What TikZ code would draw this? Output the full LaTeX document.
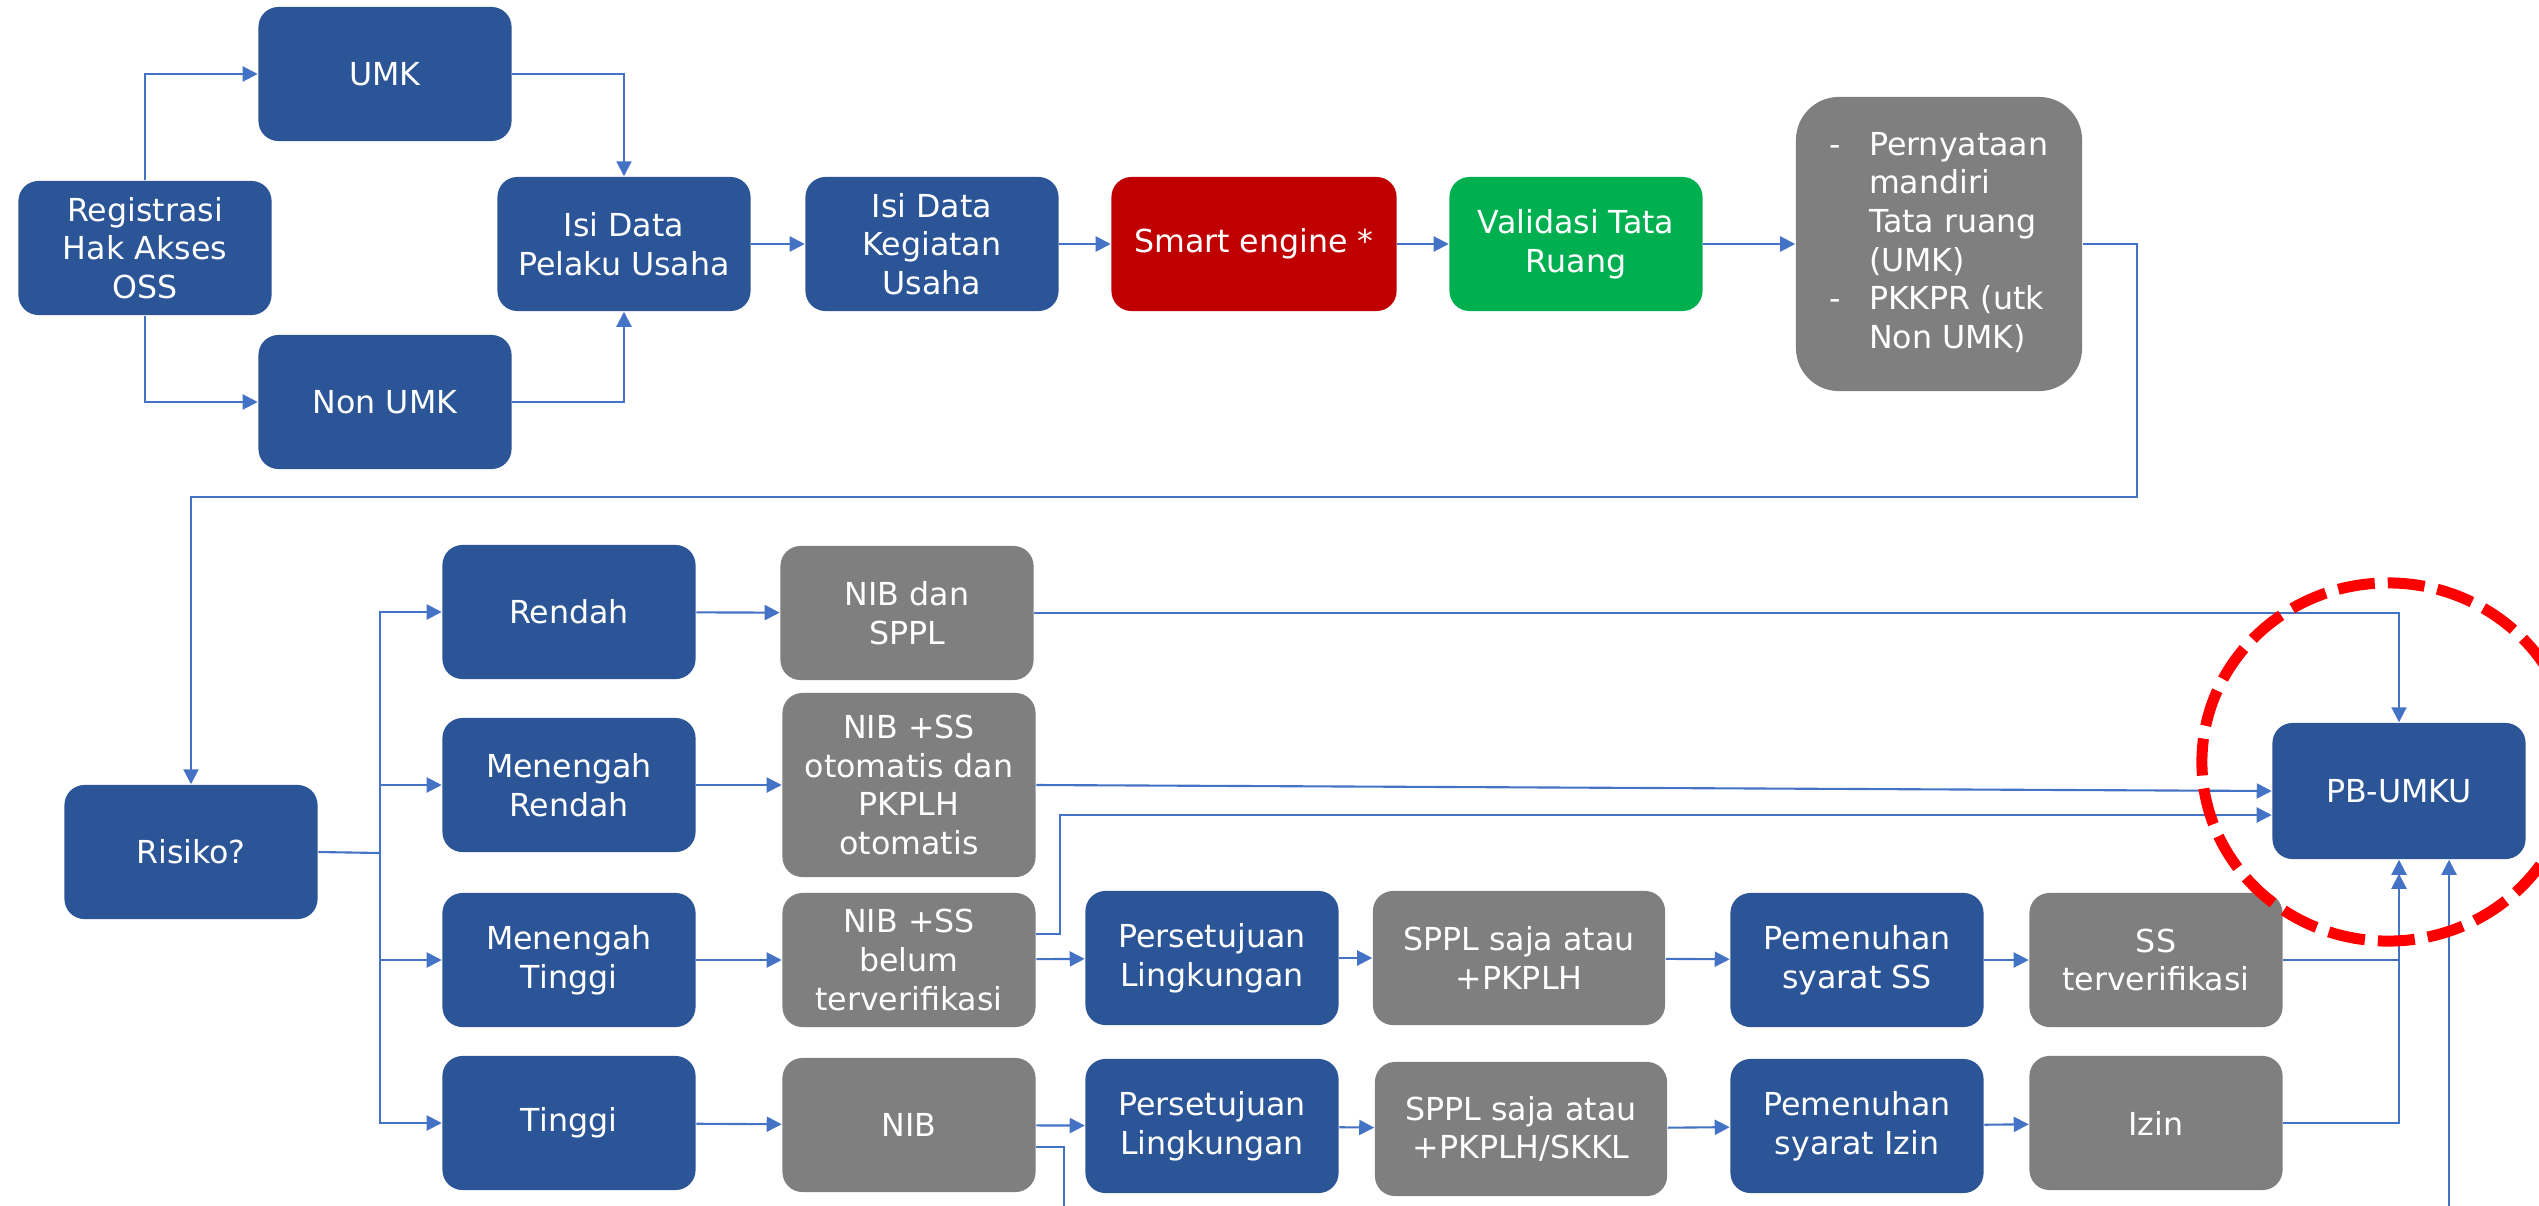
\documentclass[tikz,border=0pt]{standalone}
\usepackage{fontspec}
\setmainfont{DejaVu Sans}
\usetikzlibrary{arrows.meta,calc}

\definecolor{biru}{HTML}{2B5597}
\definecolor{abu}{HTML}{7F7F7F}
\definecolor{merah}{HTML}{C00000}
\definecolor{hijau}{HTML}{00B050}
\definecolor{garis}{HTML}{4472C4}

\begin{document}
\begin{tikzpicture}[x=0.01cm,y=-0.01cm,
    kotak/.style={rounded corners=0.2cm,text=white,align=center,
      minimum width=2.53cm,minimum height=1.34cm,inner sep=1pt,
      font=\fontsize{9}{11}\selectfont},
    kbiru/.style={kotak,fill=biru},
    kabu/.style={kotak,fill=abu},
    kmerah/.style={kotak,fill=merah},
    khijau/.style={kotak,fill=hijau},
    panah/.style={draw=garis,line width=0.6pt,-{Triangle[length=0.15cm,width=0.15cm]}},
    garisbiru/.style={draw=garis,line width=0.6pt}]

  \useasboundingbox (0,0) rectangle (2539,1206);
  \clip (0,0) rectangle (2539,1206);

  % baris atas
  \node[kbiru] (reg)      at (145,248)  {Registrasi\\Hak Akses\\OSS};
  \node[kbiru] (umk)      at (385,74)   {UMK};
  \node[kbiru] (nonumk)   at (385,402)  {Non UMK};
  \node[kbiru] (pelaku)   at (624,244)  {Isi Data\\Pelaku Usaha};
  \node[kbiru] (kegiatan) at (932,244)  {Isi Data\\Kegiatan\\Usaha};
  \node[kmerah,minimum width=2.85cm] (smart) at (1254,244) {Smart engine *};
  \node[khijau] (validasi) at (1576,244) {Validasi Tata\\Ruang};
  \node[kabu,minimum width=2.86cm,minimum height=2.94cm,rounded corners=0.43cm]
    (tataruang) at (1939,244)
    {\begin{tabular}{@{}l@{\hspace{0.28cm}}l@{}}
      - & Pernyataan\\
        & mandiri\\
        & Tata ruang\\
        & (UMK)\\
      - & PKKPR (utk\\
        & Non UMK)
    \end{tabular}};

  % baris risiko
  \node[kbiru] (risiko) at (191,852)  {Risiko?};
  \node[kbiru] (rendah) at (569,612)  {Rendah};
  \node[kbiru] (mr)     at (569,785)  {Menengah\\Rendah};
  \node[kbiru] (mt)     at (569,960)  {Menengah\\Tinggi};
  \node[kbiru] (tinggi) at (569,1123) {Tinggi};

  \node[kabu] (nibsppl)  at (907,613) {NIB dan\\SPPL};
  \node[kabu,minimum height=1.84cm] (nibotomatis) at (909,785)
    {NIB +SS\\otomatis dan\\PKPLH\\otomatis};
  \node[kabu] (nibbelum) at (909,960)  {NIB +SS\\belum\\terverifikasi};
  \node[kabu] (nib)      at (909,1125) {NIB};

  \node[kbiru] (pers1) at (1212,958) {Persetujuan\\Lingkungan};
  \node[kabu,minimum width=2.92cm] (sppl1) at (1519,958) {SPPL saja atau\\+PKPLH};
  \node[kbiru] (pem1)  at (1857,960) {Pemenuhan\\syarat SS};
  \node[kabu]  (ss)    at (2156,960) {SS\\terverifikasi};

  \node[kbiru] (pers2) at (1212,1126) {Persetujuan\\Lingkungan};
  \node[kabu,minimum width=2.92cm] (sppl2) at (1521,1129) {SPPL saja atau\\+PKPLH/SKKL};
  \node[kbiru] (pem2)  at (1857,1126) {Pemenuhan\\syarat Izin};
  \node[kabu]  (izin)  at (2156,1123) {Izin};

  \node[kbiru,minimum height=1.36cm] (pb) at (2399,791) {PB-UMKU};

  \coordinate (belok)  at (2137,497);
  \coordinate (cabang) at (380,853);
  \coordinate (bawah1) at (1064,1206);
  \coordinate (bawah2) at (2449,1206);

  % penghubung
  \draw[panah] (reg.north) |- (umk.west);
  \draw[panah] (reg.south) |- (nonumk.west);
  \draw[panah] (umk.east) -| (pelaku.north);
  \draw[panah] (nonumk.east) -| (pelaku.south);

  \begin{scope}[every edge/.style={panah}]
    \path (pelaku)   edge (kegiatan);
    \path (kegiatan) edge (smart);
    \path (smart)    edge (validasi);
    \path (validasi) edge (tataruang);

    \path (rendah) edge (nibsppl);
    \path (mr)     edge (nibotomatis);
    \path (mt)     edge (nibbelum);
    \path (tinggi) edge (nib);

    \path (nibbelum) edge (pers1);
    \path (pers1)    edge (sppl1);
    \path (sppl1)    edge (pem1);
    \path (pem1)     edge (ss);

    \path (nib)   edge (pers2);
    \path (pers2) edge (sppl2);
    \path (sppl2) edge (pem2);
    \path (pem2)  edge (izin);

    \path (nibotomatis.east) edge (pb.west);
  \end{scope}

  \draw[panah] (tataruang.east) -| (belok) -| (risiko.north);

  \draw[garisbiru] (risiko.east) -- (cabang);
  \draw[panah] (cabang) |- (rendah.west);
  \draw[panah] (cabang) |- (mr.west);
  \draw[panah] (cabang) |- (mt.west);
  \draw[panah] (cabang) |- (tinggi.west);

  \draw[panah] (nibsppl.east) -| (pb.north);
  \draw[panah] ($(nibbelum.east)+(0,-26)$) -- ++(24,0) |- ($(pb.west)+(0,24)$);
  \draw[panah] (ss.east) -| (pb.south);
  \draw[panah,shorten >=0.14cm] (izin.east) -| (pb.south);
  \draw[panah] (bawah2) -- (bawah2 |- pb.south);
  \draw[garisbiru] ($(nib.east)+(0,22)$) -| (bawah1);

  % lingkaran merah
  \draw[red,line width=0.11cm,dash pattern=on 0.37cm off 0.13cm]
    (2388,762) ellipse [x radius=1.86cm,y radius=1.79cm];

\end{tikzpicture}
\end{document}
